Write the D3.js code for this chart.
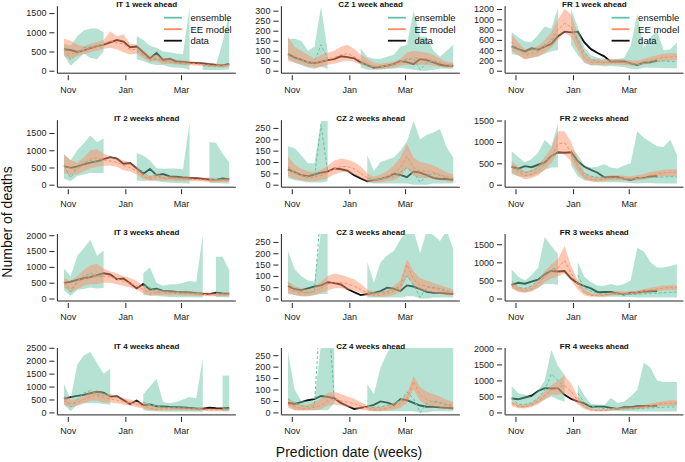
<!DOCTYPE html>
<html>
<head>
<meta charset="utf-8">
<script src="https://cdn.jsdelivr.net/npm/d3@7"></script>
<style>
  body { margin: 0; background: #fff; }
  svg { display: block; font-family: "Liberation Sans", Arial, sans-serif; }
</style>
</head>
<body>
<div id="chart"></div>
<script>
// weekly prediction dates
const dates = ["2020-10-28","2020-11-04","2020-11-11","2020-11-18","2020-11-25","2020-12-02","2020-12-09",
  "2020-12-16","2020-12-23","2020-12-30","2021-01-06","2021-01-13","2021-01-20","2021-01-27","2021-02-03",
  "2021-02-10","2021-02-17","2021-02-24","2021-03-03","2021-03-10","2021-03-17","2021-03-24","2021-03-31",
  "2021-04-07","2021-04-14","2021-04-21"];

const monthTicks = ["2020-11-01", "2021-01-01", "2021-03-01"];
const monthLabels = ["Nov", "Jan", "Mar"];

// observed deaths (row h shows obs[i + h - 1])
const obsIT = [560,540,490,530,590,640,680,740,800,760,610,630,480,320,460,280,310,240,230,210,200,190,170,150,140,180,160,150,170];
const obsCZ = [83,67,55,42,37,45,53,58,72,68,62,42,28,15,20,25,33,48,43,33,58,53,42,30,25,25,22,20,18];
const obsFR = [474,420,376,435,410,467,520,670,760,746,760,550,420,345,280,175,180,180,143,110,160,165,195,200,205,210];
const lastObs = { IT: 25, CZ: 25, FR: 22 };

// ---- Italy ----
const IT1_ensHi  = [700,650,900,1050,1100,1100,1000,null,null,null,null,900,800,650,600,500,480,450,430,1650,null,150,150,150,750,1500];
const IT1_ensLo  = [400,130,280,450,330,300,500,null,null,null,null,300,250,180,150,150,100,80,70,20,null,20,20,20,20,30];
const IT1_ensMed = [560,280,450,600,620,650,700,null,null,null,null,500,400,280,300,250,220,200,180,170,null,130,120,110,120,150];
const IT1_eeHi   = [830,780,680,640,700,750,800,1030,900,950,700,680,520,380,420,330,330,280,270,250,230,220,200,180,170,200];
const IT1_eeLo   = [380,300,380,430,480,520,570,600,550,480,420,450,330,220,250,170,180,160,150,140,130,120,100,90,80,100];
const IT1_eeMed  = [560,430,480,530,590,640,690,780,720,700,540,560,420,290,330,240,250,210,200,190,180,160,150,130,120,150];

const IT2_ensHi  = [890,700,1000,1200,1430,1230,1350,null,null,null,null,920,850,700,480,460,470,470,440,1800,null,null,1230,1220,900,650];
const IT2_ensLo  = [170,100,250,300,350,330,350,null,null,null,null,120,110,130,100,80,60,50,40,30,null,null,50,50,40,30];
const IT2_ensMed = [550,200,500,650,700,650,700,null,null,null,null,500,380,220,280,200,190,180,170,160,null,null,150,150,140,130];
const IT2_eeHi   = [870,720,640,800,1000,1030,900,820,780,700,650,520,330,250,330,260,250,240,240,230,220,210,200,190,180,200];
const IT2_eeLo   = [330,280,300,400,480,520,550,560,520,420,380,300,170,110,140,110,120,110,110,100,100,90,80,70,70,80];
const IT2_eeMed  = [580,460,450,580,750,780,720,690,650,560,500,400,240,170,230,180,180,170,170,160,150,140,130,120,120,140];

const IT3_ensHi  = [940,700,1340,1600,1850,1350,1520,null,null,null,null,null,800,990,500,400,450,450,500,550,520,2000,null,1320,1320,900];
const IT3_ensLo  = [250,80,270,300,350,320,330,null,null,null,null,null,100,100,80,60,50,50,40,40,30,30,null,50,50,40];
const IT3_ensMed = [500,200,550,700,800,700,700,null,null,null,null,null,400,350,200,230,200,190,180,170,160,150,null,150,140,130];
const IT3_eeHi   = [650,550,700,900,1050,1100,950,850,800,700,650,550,400,280,300,260,250,240,230,220,210,200,190,180,180,190];
const IT3_eeLo   = [350,200,300,400,450,450,500,500,450,400,350,280,170,80,110,100,100,100,90,90,80,80,70,70,60,70];
const IT3_eeMed  = [500,300,480,620,700,720,700,680,620,540,480,400,280,150,190,170,170,160,150,150,140,130,120,110,110,120];

const IT4_ensHi  = [1100,500,1850,2200,2350,1900,1500,1700,null,null,null,null,700,1000,1300,400,350,400,500,600,550,2100,null,null,1420,1430];
const IT4_ensLo  = [300,50,300,350,350,350,330,300,null,null,null,null,80,50,50,30,30,30,30,30,30,30,null,null,40,40];
const IT4_ensMed = [550,200,500,750,850,700,650,650,null,null,null,null,400,300,250,200,190,180,170,160,160,150,null,null,140,130];
const IT4_eeHi   = [650,500,520,650,800,850,750,700,650,550,500,420,380,300,200,220,210,200,200,190,180,170,160,150,150,160];
const IT4_eeLo   = [300,200,250,350,450,450,380,380,350,300,270,200,150,80,60,80,80,80,70,70,60,60,50,50,50,60];
const IT4_eeMed  = [450,330,380,500,620,650,560,520,480,420,380,300,250,170,120,140,140,130,130,120,120,110,100,100,100,110];

// ---- Czechia ----
const CZ1_ensHi  = [160,160,150,100,120,320,100,null,null,null,null,110,70,60,60,70,80,120,130,300,170,170,100,70,100,130];
const CZ1_ensLo  = [60,40,30,15,10,20,10,null,null,null,null,15,5,5,5,8,10,15,10,5,0,0,5,10,10,10];
const CZ1_ensMed = [80,60,50,40,45,130,60,null,null,null,null,40,25,20,20,25,30,45,55,60,5,40,50,40,30,25];
const CZ1_eeHi   = [170,120,100,80,60,80,90,100,120,130,110,80,60,40,35,40,45,60,90,100,95,90,80,60,45,40];
const CZ1_eeLo   = [50,40,30,20,15,20,30,35,45,50,45,30,20,10,10,12,15,25,30,30,30,30,25,20,15,15];
const CZ1_eeMed  = [90,70,55,45,35,45,55,65,80,85,70,50,35,22,20,25,30,45,60,65,62,60,50,38,30,25];

const CZ2_ensHi  = [170,160,130,95,95,280,280,null,null,null,null,null,130,60,100,110,120,150,190,280,200,220,230,245,165,120];
const CZ2_ensLo  = [30,20,15,10,10,10,15,null,null,null,null,null,10,5,5,5,5,5,5,0,0,0,5,5,5,5];
const CZ2_ensMed = [75,50,40,30,35,265,60,null,null,null,null,null,30,20,25,30,35,55,75,55,10,40,50,40,30,25];
const CZ2_eeHi   = [125,90,70,60,55,65,85,105,115,110,100,80,50,35,45,60,85,120,180,120,100,95,85,70,55,45];
const CZ2_eeLo   = [40,25,20,15,15,20,30,45,55,55,45,30,15,10,10,15,20,35,70,40,30,30,25,20,15,12];
const CZ2_eeMed  = [80,55,40,35,35,40,55,70,80,80,70,50,30,20,25,35,50,75,125,75,60,60,55,45,35,28];

const CZ3_ensHi  = [210,130,100,80,75,300,300,null,null,null,null,null,160,70,160,190,210,260,300,300,200,300,280,254,300,220];
const CZ3_ensLo  = [20,15,10,10,15,20,20,null,null,null,null,null,5,5,5,5,5,5,10,10,0,0,5,5,5,5];
const CZ3_ensMed = [70,40,30,25,30,400,400,null,null,null,null,null,30,20,25,30,40,55,100,60,5,50,50,45,35,30];
const CZ3_eeHi   = [75,55,45,40,50,75,100,110,105,95,85,65,40,30,30,40,55,80,175,120,90,80,70,60,50,40];
const CZ3_eeLo   = [25,15,10,10,15,25,35,45,45,40,35,25,12,8,8,10,15,30,100,60,35,30,25,20,15,12];
const CZ3_eeMed  = [45,30,25,25,30,45,65,70,70,65,55,40,25,15,15,25,30,55,150,85,60,55,45,40,30,25];

const CZ4_ensHi  = [262,100,50,50,50,300,300,300,null,null,null,null,123,80,196,260,300,300,300,300,300,300,300,300,300,300];
const CZ4_ensLo  = [30,10,10,10,10,10,10,40,null,null,null,null,10,5,5,5,5,5,5,5,0,0,5,5,5,5];
const CZ4_ensMed = [60,40,30,25,30,500,500,50,null,null,null,null,30,20,25,30,40,50,90,60,0,40,50,45,35,30];
const CZ4_eeHi   = [60,45,35,35,45,60,85,90,80,70,60,45,30,25,25,30,40,55,80,160,110,90,80,70,55,45];
const CZ4_eeLo   = [20,10,8,8,10,15,30,35,30,25,20,12,8,5,5,8,12,20,40,100,50,30,25,20,15,12];
const CZ4_eeMed  = [35,25,18,18,22,30,50,60,50,45,38,28,18,12,12,18,25,38,60,135,75,55,45,40,30,25];

// ---- France ----
const FR1_ensHi  = [750,650,570,560,700,860,820,1230,null,1200,850,450,300,250,230,220,230,250,480,1100,450,650,780,400,420,550];
const FR1_ensLo  = [320,300,230,250,280,330,380,400,null,500,300,150,100,100,80,90,80,70,40,30,60,60,60,50,50,50];
const FR1_ensMed = [470,400,350,400,420,500,580,700,null,850,600,350,220,180,160,170,170,160,140,120,140,150,180,190,180,170];
const FR1_eeHi   = [700,550,420,450,480,600,750,1000,1200,1100,700,350,230,230,220,230,230,220,200,200,230,270,300,330,340,340];
const FR1_eeLo   = [380,300,220,250,270,350,450,600,750,650,400,170,110,110,110,120,120,110,100,100,120,150,170,190,200,200];
const FR1_eeMed  = [560,420,300,340,370,470,600,800,920,850,550,250,170,160,160,170,170,160,150,150,170,200,230,260,270,270];

const FR2_ensHi  = [780,650,520,600,750,1050,900,1430,null,850,700,450,400,420,480,400,380,450,500,1250,1100,1000,900,880,1050,700];
const FR2_ensLo  = [250,200,180,200,250,350,400,400,null,450,200,100,80,60,60,60,60,50,40,30,40,40,30,30,30,30];
const FR2_ensMed = [450,350,280,320,400,550,650,800,null,700,450,250,200,170,160,150,150,140,130,140,150,170,170,180,190,180];
const FR2_eeHi   = [550,420,320,350,450,650,850,1250,1250,1000,600,300,200,180,200,220,220,210,200,220,250,300,320,350,360,360];
const FR2_eeLo   = [280,200,130,150,220,350,500,750,700,550,300,120,80,70,80,100,100,100,90,100,120,150,180,200,200,200];
const FR2_eeMed  = [400,300,210,240,320,480,650,950,980,750,420,190,120,110,130,160,160,150,140,160,180,220,250,280,290,290];

const FR3_ensHi  = [800,600,500,650,850,1700,1450,1230,null,null,1000,600,450,350,350,400,350,400,500,1400,1300,1000,860,860,900,950];
const FR3_ensLo  = [300,200,180,200,300,400,400,380,null,null,400,150,80,60,50,50,50,40,40,30,30,30,30,30,30,30];
const FR3_ensMed = [480,300,280,350,500,700,800,850,null,null,650,300,200,150,120,120,120,110,110,120,130,140,150,160,170,180];
const FR3_eeHi   = [450,330,280,350,500,750,950,1100,1450,900,500,250,150,120,140,180,200,200,190,220,260,300,330,360,370,370];
const FR3_eeLo   = [280,180,150,200,300,450,550,600,700,500,250,80,50,40,50,80,100,100,100,120,150,180,200,220,230,230];
const FR3_eeMed  = [360,250,210,270,400,600,750,850,1050,700,380,150,90,80,90,120,140,150,140,170,200,240,260,290,300,300];

const FR4_ensHi  = [820,600,550,500,700,1000,1950,1450,1170,null,880,520,260,250,230,450,300,330,500,700,1560,1400,1000,950,950,950];
const FR4_ensLo  = [300,150,150,200,300,400,500,400,330,null,300,150,80,60,50,50,50,40,40,30,30,30,30,30,30,30];
const FR4_ensMed = [450,250,250,300,450,700,1200,1000,800,null,600,300,200,150,120,120,120,110,110,120,130,140,150,160,170,170];
const FR4_eeHi   = [350,250,230,300,450,650,850,1000,1150,900,500,250,120,100,100,120,150,170,180,200,230,280,320,360,380,380];
const FR4_eeLo   = [200,130,120,170,250,400,550,550,600,450,250,100,40,30,30,50,70,80,90,100,120,150,180,200,200,200];
const FR4_eeMed  = [280,190,180,230,350,520,700,780,850,650,380,170,80,60,65,85,110,125,135,150,175,210,250,280,290,290];

// y-axis extents and tick values per panel
const yMaxIT = [1615, 1800, 1960, 2400];
const yMaxCZ = [310, 273, 274, 271];
const yMaxFR = [1207, 1450, 1714, 1939];
const ticksIT = [[0,500,1000,1500],[0,500,1000,1500],[0,500,1000,1500,2000],[0,500,1000,1500,2000,2500]];
const ticksCZ = [[0,50,100,150,200,250,300],[0,50,100,150,200,250],[0,50,100,150,200,250],[0,50,100,150,200,250]];
const ticksFR = [[0,200,400,600,800,1000,1200],[0,500,1000,1500],[0,500,1000,1500],[0,500,1000,1500,2000]];

const countries = ["IT", "CZ", "FR"];
const obs = { IT: obsIT, CZ: obsCZ, FR: obsFR };
const yMax = { IT: yMaxIT, CZ: yMaxCZ, FR: yMaxFR };
const ticks = { IT: ticksIT, CZ: ticksCZ, FR: ticksFR };
const series = {
  IT1: [IT1_ensLo, IT1_ensMed, IT1_ensHi, IT1_eeLo, IT1_eeMed, IT1_eeHi],
  IT2: [IT2_ensLo, IT2_ensMed, IT2_ensHi, IT2_eeLo, IT2_eeMed, IT2_eeHi],
  IT3: [IT3_ensLo, IT3_ensMed, IT3_ensHi, IT3_eeLo, IT3_eeMed, IT3_eeHi],
  IT4: [IT4_ensLo, IT4_ensMed, IT4_ensHi, IT4_eeLo, IT4_eeMed, IT4_eeHi],
  CZ1: [CZ1_ensLo, CZ1_ensMed, CZ1_ensHi, CZ1_eeLo, CZ1_eeMed, CZ1_eeHi],
  CZ2: [CZ2_ensLo, CZ2_ensMed, CZ2_ensHi, CZ2_eeLo, CZ2_eeMed, CZ2_eeHi],
  CZ3: [CZ3_ensLo, CZ3_ensMed, CZ3_ensHi, CZ3_eeLo, CZ3_eeMed, CZ3_eeHi],
  CZ4: [CZ4_ensLo, CZ4_ensMed, CZ4_ensHi, CZ4_eeLo, CZ4_eeMed, CZ4_eeHi],
  FR1: [FR1_ensLo, FR1_ensMed, FR1_ensHi, FR1_eeLo, FR1_eeMed, FR1_eeHi],
  FR2: [FR2_ensLo, FR2_ensMed, FR2_ensHi, FR2_eeLo, FR2_eeMed, FR2_eeHi],
  FR3: [FR3_ensLo, FR3_ensMed, FR3_ensHi, FR3_eeLo, FR3_eeMed, FR3_eeHi],
  FR4: [FR4_ensLo, FR4_ensMed, FR4_ensHi, FR4_eeLo, FR4_eeMed, FR4_eeHi]
};

const ensColor = "#66C2A5", eeColor = "#FC8D62";

// layout
const W = 685, H = 462;
const colX = [57.4, 281.4, 505.1];
const rowTop = [6.2, 120.2, 234.0, 347.9];
const plotW = 178.4, plotH = 67;

const svg = d3.select("#chart").append("svg").attr("width", W).attr("height", H);
const parse = d3.utcParse("%Y-%m-%d");
const x = d3.scaleUtc()
  .domain([parse("2020-10-21"), parse("2021-04-28")])
  .range([0, plotW]);

countries.forEach(function(c, ci) {
  [1, 2, 3, 4].forEach(function(h) {
    const key = c + h;
    const [eLo, eMed, eHi, mLo, mMed, mHi] = series[key];
    const M = yMax[c][h - 1];
    const y = d3.scaleLinear().domain([-0.04 * M, 1.04 * M]).range([plotH, 0]);

    const g = svg.append("g")
      .attr("transform", "translate(" + colX[ci] + "," + rowTop[h - 1] + ")");

    g.append("clipPath").attr("id", "clip" + key)
      .append("rect").attr("x", 0).attr("y", 0).attr("width", plotW).attr("height", plotH);
    const pg = g.append("g").attr("clip-path", "url(#clip" + key + ")");

    const rows = dates.map((d, i) => ({
      date: parse(d),
      eLo: eLo[i], eMed: eMed[i], eHi: eHi[i],
      mLo: mLo[i], mMed: mMed[i], mHi: mHi[i],
      obs: i <= lastObs[c] ? obs[c][i + h - 1] : null
    }));

    // observed data (drawn first, bands are translucent on top)
    pg.append("path").datum(rows)
      .attr("fill", "none").attr("stroke", "#111").attr("stroke-width", 1.9)
      .attr("d", d3.line().defined(d => d.obs != null).x(d => x(d.date)).y(d => y(d.obs)));

    // ensemble band
    pg.append("path").datum(rows)
      .attr("fill", ensColor).attr("fill-opacity", 0.48)
      .attr("d", d3.area().defined(d => d.eLo != null && d.eHi != null)
        .x(d => x(d.date)).y0(d => y(d.eLo)).y1(d => y(d.eHi)));

    // EE model band
    pg.append("path").datum(rows)
      .attr("fill", eeColor).attr("fill-opacity", 0.48)
      .attr("d", d3.area().x(d => x(d.date)).y0(d => y(d.mLo)).y1(d => y(d.mHi)));

    // medians
    pg.append("path").datum(rows)
      .attr("fill", "none").attr("stroke", ensColor).attr("stroke-width", 1)
      .attr("stroke-dasharray", "3,2")
      .attr("d", d3.line().defined(d => d.eMed != null).x(d => x(d.date)).y(d => y(d.eMed)));
    pg.append("path").datum(rows)
      .attr("fill", "none").attr("stroke", eeColor).attr("stroke-width", 1)
      .attr("stroke-dasharray", "3,2")
      .attr("d", d3.line().x(d => x(d.date)).y(d => y(d.mMed)));

    // L-shaped box
    g.append("path")
      .attr("d", "M0,0V" + plotH + "H" + plotW)
      .attr("fill", "none").attr("stroke", "#222").attr("stroke-width", 1);

    // y axis
    const ya = g.append("g").attr("transform", "translate(-3,0)")
      .call(d3.axisLeft(y).tickValues(ticks[c][h - 1]).tickFormat(d3.format("d"))
        .tickSize(5).tickPadding(3));
    ya.select(".domain").remove();
    ya.selectAll("text").attr("font-size", 9).attr("fill", "#222").attr("font-family", "Liberation Sans, Arial, sans-serif");
    ya.selectAll("line").attr("stroke", "#222");

    // x axis
    const xa = g.append("g").attr("transform", "translate(0," + (plotH + 2) + ")")
      .call(d3.axisBottom(x).tickValues(monthTicks.map(parse))
        .tickFormat((d, i) => monthLabels[i]).tickSize(5).tickPadding(6));
    xa.select(".domain").remove();
    xa.selectAll("text").attr("font-size", 9).attr("fill", "#222").attr("font-family", "Liberation Sans, Arial, sans-serif");
    xa.selectAll("line").attr("stroke", "#222");

    // title
    g.append("text")
      .attr("x", plotW / 2).attr("y", 1.2)
      .attr("text-anchor", "middle")
      .attr("font-size", 8).attr("font-weight", "bold").attr("fill", "#111")
      .text(c + " " + h + (h === 1 ? " week ahead" : " weeks ahead"));

    // legend on first row
    if (h === 1) {
      const items = [["ensemble", ensColor], ["EE model", eeColor], ["data", "#111"]];
      items.forEach(function(it, k) {
        const ly = 11.5 + k * 11.5;
        g.append("line").attr("x1", 106.5).attr("x2", 124.5).attr("y1", ly).attr("y2", ly)
          .attr("stroke", it[1]).attr("stroke-width", 1.8);
        g.append("text").attr("x", 133).attr("y", ly).attr("dy", "0.35em")
          .attr("font-size", 9.5).attr("fill", "#111").text(it[0]);
      });
    }
  });
});

// axis titles
svg.append("text")
  .attr("transform", "translate(12,222) rotate(-90)")
  .attr("text-anchor", "middle")
  .attr("font-size", 14).attr("fill", "#111")
  .text("Number of deaths");

svg.append("text")
  .attr("x", 349).attr("y", 457)
  .attr("text-anchor", "middle")
  .attr("font-size", 14).attr("fill", "#111")
  .text("Prediction date (weeks)");
</script>
</body>
</html>
